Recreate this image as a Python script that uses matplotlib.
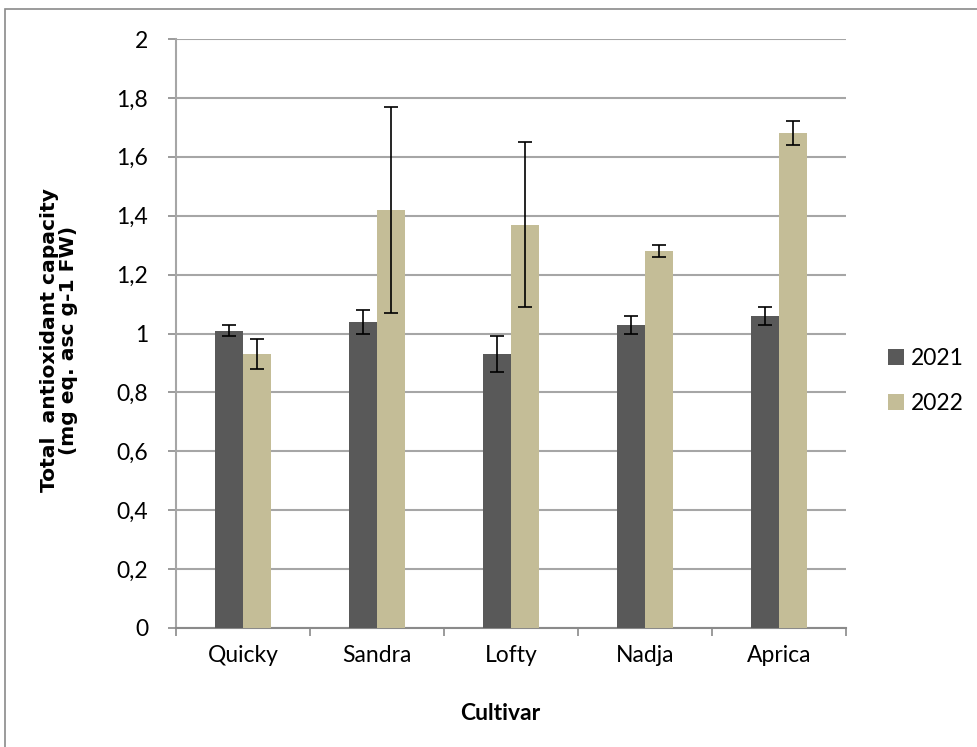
import matplotlib
matplotlib.use("Agg")
import matplotlib.pyplot as plt
import numpy as np
from matplotlib.patches import Rectangle

cultivars = ["Quicky", "Sandra", "Lofty", "Nadja", "Aprica"]
years = ["2021", "2022"]
vals_2021 = [1.01, 1.04, 0.93, 1.03, 1.06]
err_2021 = [0.02, 0.04, 0.06, 0.03, 0.03]
vals_2022 = [0.93, 1.42, 1.37, 1.28, 1.68]
err_2022 = [0.05, 0.35, 0.28, 0.02, 0.04]
yticks = [0, 0.2, 0.4, 0.6, 0.8, 1.0, 1.2, 1.4, 1.6, 1.8, 2.0]
ytick_labels = ["0", "0,2", "0,4", "0,6", "0,8", "1", "1,2", "1,4", "1,6", "1,8", "2"]

plt.rcParams['font.family'] = ['Lato', 'DejaVu Sans']
FS = 16.5

W, H = 977, 747
fig = plt.figure(figsize=(W/100, H/100), dpi=100)
fig.patches.append(Rectangle((5/W, -0.1), 1.2, 1 - 9/H + 0.1, transform=fig.transFigure,
                             fill=False, edgecolor="#8a8a8a", linewidth=1.2))

ax = fig.add_axes([176/W, 1 - 628/H, (846-176)/W, (628-39)/H])
x = np.arange(len(cultivars))
bw = 0.21
ax.bar(x - bw/2, vals_2021, bw, color="#595959", label=years[0], zorder=3,
       yerr=err_2021, error_kw=dict(ecolor="black", elinewidth=1.2, capsize=5, capthick=1.2, zorder=4))
ax.bar(x + bw/2, vals_2022, bw, color="#C4BD97", label=years[1], zorder=3,
       yerr=err_2022, error_kw=dict(ecolor="black", elinewidth=1.2, capsize=5, capthick=1.2, zorder=4))

ax.set_xlim(-0.5, len(cultivars) - 0.5)
ax.set_ylim(0, 2)
ax.set_yticks(yticks)
ax.set_yticklabels(ytick_labels, fontsize=FS)
ax.yaxis.grid(True, color="#a6a6a6", linewidth=1.5, zorder=0)
ax.set_axisbelow(True)

ax.set_xticks(x)
ax.set_xticklabels(cultivars, fontsize=FS)
ax.set_xticks(np.arange(-0.5, len(cultivars), 1.0), minor=True)
ax.tick_params(axis="x", which="major", length=0, pad=12)
ax.tick_params(axis="x", which="minor", length=6, color="#8a8a8a", width=1.2, direction="out")
ax.tick_params(axis="y", length=6, color="#8a8a8a", width=1.2, direction="out", pad=14)

for s in ["top", "right"]:
    ax.spines[s].set_visible(False)
ax.spines["left"].set_color("#a6a6a6")
ax.spines["left"].set_linewidth(1.5)
ax.spines["bottom"].set_color("#8a8a8a")
ax.spines["bottom"].set_linewidth(1.5)

fig.text(500/W, 1 - 713/H, "Cultivar", fontsize=FS, fontweight="bold", ha="center", va="center")
fig.text(59/W, 1 - 340/H, "Total  antioxidant capacity\n(mg eq. asc g-1 FW)", fontsize=14.6,
         family=["DejaVu Sans"], fontweight="bold", rotation=90, ha="center", va="center",
         multialignment="center", linespacing=1.05)

leg = ax.legend(loc="center left", bbox_to_anchor=((888-176)/670, (628-381)/589), frameon=False,
                fontsize=FS, handlelength=0.7, handleheight=0.7, labelspacing=1.05,
                handletextpad=0.3, borderpad=0, borderaxespad=0)

fig.savefig("out.png", dpi=100)
